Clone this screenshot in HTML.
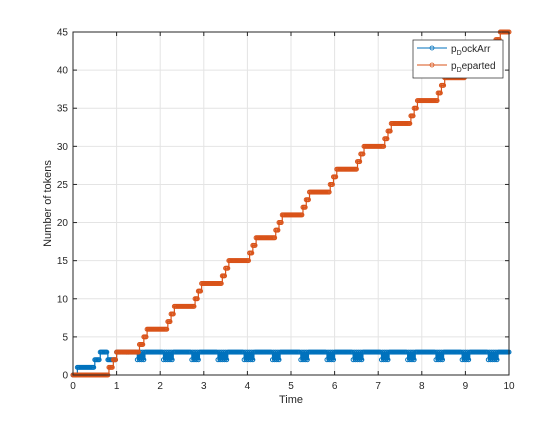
<!DOCTYPE html>
<html><head><meta charset="utf-8"><style>
body{margin:0;background:#fff}
svg{font-family:"Liberation Sans",sans-serif}
</style></head><body>
<svg id="chart" width="560" height="420" viewBox="0 0 560 420" xmlns="http://www.w3.org/2000/svg">
<rect width="560" height="420" fill="#fff"/>
<g id="grid"></g><g id="series"></g><g id="axes"></g>
</svg>
<script>
const xTicks=[0,1,2,3,4,5,6,7,8,9,10];
const yTicks=[0,5,10,15,20,25,30,35,40,45];
const departedTimes=[0,0.82,0.92,1.0,1.52,1.62,1.7,2.17,2.25,2.32,2.8,2.87,2.95,3.42,3.5,3.57,4.05,4.12,4.2,4.65,4.72,4.8,5.27,5.35,5.42,5.9,5.97,6.05,6.52,6.6,6.67,7.15,7.22,7.3,7.75,7.82,7.9,8.37,8.45,8.52,9.0,9.07,9.15,9.6,9.7,9.8];
const departedValues=[0,1,2,3,4,5,6,7,8,9,10,11,12,13,14,15,16,17,18,19,20,21,22,23,24,25,26,27,28,29,30,31,32,33,34,35,36,37,38,39,40,41,42,43,44,45];
const dockTimes=[0,0.1,0.5,0.62,0.8,1.0];
const dockValues=[0,1,2,3,2,3];
const dipStarts=[1.45,2.05,2.7,3.3,3.9,4.55,5.2,5.8,6.4,7.05,7.65,8.3,8.9,9.5];
const dipEnds=[1.65,2.3,2.9,3.55,4.15,4.75,5.4,6.0,6.65,7.25,7.85,8.5,9.1,9.75];
const L=73,R=509,T=32,B=375;
const sx=v=>L+(R-L)*v/10, sy=v=>B-(B-T)*v/45;
const NS="http://www.w3.org/2000/svg";
function mk(tag,attrs,parent){const e=document.createElementNS(NS,tag);for(const k in attrs)e.setAttribute(k,attrs[k]);parent.appendChild(e);return e;}
const grid=document.getElementById('grid'),axes=document.getElementById('axes'),ser=document.getElementById('series');
xTicks.forEach(t=>{const x=sx(t);
 const g=mk('line',{x1:x,x2:x,y1:T,y2:B,stroke:'#e4e4e4','stroke-width':1},grid);
 
 mk('line',{x1:x,x2:x,y1:B,y2:B-4,stroke:'#262626'},axes);mk('line',{x1:x,x2:x,y1:T,y2:T+4,stroke:'#262626'},axes);
 const tx=mk('text',{x:x,y:B+14,'text-anchor':'middle','font-size':10,fill:'#262626'},axes);tx.textContent=t;
 });
yTicks.forEach(t=>{const y=sy(t);
 const g=mk('line',{x1:L,x2:R,y1:y,y2:y,stroke:'#e4e4e4','stroke-width':1},grid);
 
 mk('line',{x1:L,x2:L+4,y1:y,y2:y,stroke:'#262626'},axes);mk('line',{x1:R,x2:R-4,y1:y,y2:y,stroke:'#262626'},axes);
 const tx=mk('text',{x:L-5,y:y+3.5,'text-anchor':'end','font-size':10,fill:'#262626'},axes);tx.textContent=t;
 });
const box=mk('rect',{x:L,y:T,width:R-L,height:B-T,fill:'none',stroke:'#262626','stroke-width':1},axes);

const xl=mk('text',{x:(L+R)/2,y:403,'text-anchor':'middle','font-size':11,fill:'#262626'},axes);xl.textContent='Time';

const yl=mk('text',{x:0,y:0,'text-anchor':'middle','font-size':11,fill:'#262626',transform:`translate(51,${(T+B)/2}) rotate(-90)`},axes);yl.textContent='Number of tokens';

function valAt(times,vals,t){let v=vals[0];for(let i=0;i<times.length;i++)if(times[i]<=t+1e-9)v=vals[i];return v;}
const samples=[];for(let i=0;i<=400;i++)samples.push(i*0.025);
function drawSeries(vfn,color,name){
 let d='',prev=null;const pts=[];
 samples.forEach((t,i)=>{const v=vfn(t,i);const x=sx(t),y=sy(v);
  if(prev===null)d+=`M${x},${y}`;else d+=`H${x}V${y}`;prev=v;pts.push([x,y]);});
 const p=mk('path',{d:d,fill:'none',stroke:color,'stroke-width':1.2},ser);
 
 pts.forEach(([x,y])=>{const c=mk('circle',{cx:x,cy:y,r:2,fill:'none',stroke:color,'stroke-width':1},ser);
  });
}
drawSeries((t,i)=>{let v=valAt(dockTimes,dockValues,t);
 if(t>=1.0){v=3;for(let k=0;k<dipStarts.length;k++)if(t>=dipStarts[k]&&t<=dipEnds[k])v=(i%2)?2:3;}
 return v;},'#0072BD','dockarr');
drawSeries(t=>valAt(departedTimes,departedValues,t),'#D95319','departed');
const lg=mk('g',{},axes);
mk('rect',{x:413,y:40,width:90,height:38,fill:'#fff',stroke:'#262626','stroke-width':0.7},lg);
[['#0072BD','DockArr',52,'legend-entry-dockarr'],['#D95319','Departed',69,'legend-entry-departed']].forEach(([c,lab,y,n])=>{
 const e=mk('g',{},lg);
 mk('line',{x1:417,x2:447,y1:y-4,y2:y-4,stroke:c,'stroke-width':1},e);
 mk('circle',{cx:432,cy:y-4,r:2,fill:'none',stroke:c,'stroke-width':0.8},e);
 const tx=mk('text',{x:451,y:y,'font-size':10,fill:'#262626'},e);
 tx.innerHTML=`p<tspan font-size="7" dy="3">${lab[0]}</tspan><tspan dy="-3">${lab.slice(1)}</tspan>`;
});
</script>
</body></html>
